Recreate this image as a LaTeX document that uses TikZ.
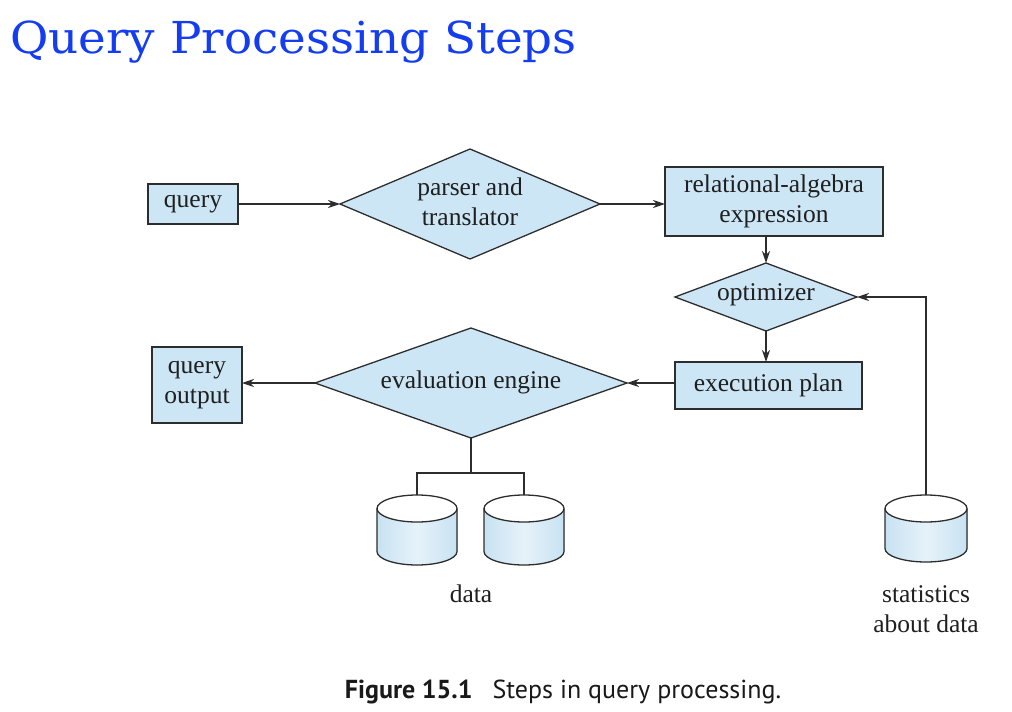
\documentclass[tikz,border=0pt]{standalone}
\usepackage{fontspec}
\setmainfont{Liberation Serif}
\newfontfamily\titlefont{DejaVu Serif}
\newfontfamily\capfont{PT Sans}
\usetikzlibrary{shapes.geometric,arrows.meta}
\definecolor{boxblue}{RGB}{205,230,245}
\definecolor{cylblue}{RGB}{200,226,242}
\definecolor{edge}{RGB}{45,45,45}
\definecolor{titleblue}{RGB}{20,60,240}
\tikzset{
  box/.style={draw=edge, line width=1.3pt, fill=boxblue, inner sep=0pt, outer sep=0pt, align=center},
  dia/.style={diamond, draw=edge, line width=1.3pt, fill=boxblue, inner sep=0pt, outer sep=0pt},
  txt/.style={font=\fontsize{25.5}{30}\selectfont, text=black!88, align=center, inner sep=0pt},
  arr/.style={draw=edge, line width=1.2pt, -{Stealth[length=12pt,width=8pt]}},
  conn/.style={draw=edge, line width=1.2pt},
}
\newcommand{\cyl}[4]{% x, top y, rx, bottom y
  \fill[left color=cylblue, right color=cylblue, middle color=cylblue!45!white]
    (#1-#3,#2-13.5) -- (#1-#3,#4+13.5) arc[start angle=180,end angle=360,x radius=#3,y radius=13.5]
    -- (#1+#3,#2-13.5) -- cycle;
  \draw[edge, line width=1.3pt] (#1-#3,#2-13.5) -- (#1-#3,#4+13.5) arc[start angle=180,end angle=360,x radius=#3,y radius=13.5]
    -- (#1+#3,#2-13.5);
  \draw[edge, line width=1.3pt, fill=white] (#1,#2-13.5) ellipse[x radius=#3, y radius=13.5];
}
\begin{document}
\begin{tikzpicture}[x=1pt,y=1pt]
\useasboundingbox (0,0) rectangle (1012,-712);
\fill[white] (0,0) rectangle (1012,-712);
% title
\node[anchor=base west, inner sep=0pt, text=titleblue, font=\titlefont\fontsize{44}{50}\selectfont] (title) at (10,-53) {\scalebox{1.064}[1]{Query Processing Steps}};
% nodes
\node[box, minimum width=90, minimum height=40] (q) at (193,-204) {};
\node[txt] (qt) at (q.center) {query};
\node[dia, minimum width=260, minimum height=110] (parser) at (470,-204) {};
\node[txt] (pt) at (470,-202) {parser and\\translator};
\node[box, minimum width=218, minimum height=69] (rel) at (774,-201.5) {};
\node[txt] (rt) at (774,-201) {relational-algebra\\expression};
\node[dia, minimum width=182, minimum height=68] (opt) at (766,-297) {};
\node[txt] (ot) at (766,-295) {optimizer};
\node[box, minimum width=187, minimum height=47] (exec) at (768.5,-385.5) {};
\node[txt] (et) at (768.5,-385) {execution plan};
\node[dia, minimum width=312, minimum height=110] (eval) at (471,-383) {};
\node[txt] (evt) at (471,-382) {evaluation engine};
\node[box, minimum width=90, minimum height=76] (qo) at (197,-385) {};
\node[txt] (qot) at (qo.center) {query\\output};
% cylinders
\cyl{417}{-495}{40}{-565}
\cyl{524}{-495}{40}{-565}
\cyl{926}{-495}{41}{-562}
\coordinate (d1) at (417,-495);
\coordinate (d2) at (524,-495);
\coordinate (st) at (926,-495);
\coordinate (j) at (471,-473);
\node[txt] (dl) at (471,-594) {data};
\node[txt] (sl) at (926,-609) {statistics\\about data};
% connectors
\draw[arr] (q.east |- parser.west) -- (parser.west);
\draw[arr] (parser.east) -- (parser.east -| rel.west);
\draw[arr] (opt.north |- rel.south) -- (opt.north);
\draw[arr] (opt.south) -- (opt.south |- exec.north);
\draw[arr] (exec.west |- eval.east) -- (eval.east);
\draw[arr] (eval.west) -- (eval.west -| qo.east);
\draw[arr] (st) |- (opt.east);
\draw[conn] (eval.south) -- (j);
\draw[conn] (d1) -- (d1 |- j) -- (d2 |- j) -- (d2);
% caption
\node[inner sep=0pt, font=\capfont\fontsize{26}{30}\selectfont, text=black!90] (cap) at (563,-692) {\textbf{Figure 15.1}\hspace{20pt}Steps in query processing.};
\end{tikzpicture}
\end{document}
